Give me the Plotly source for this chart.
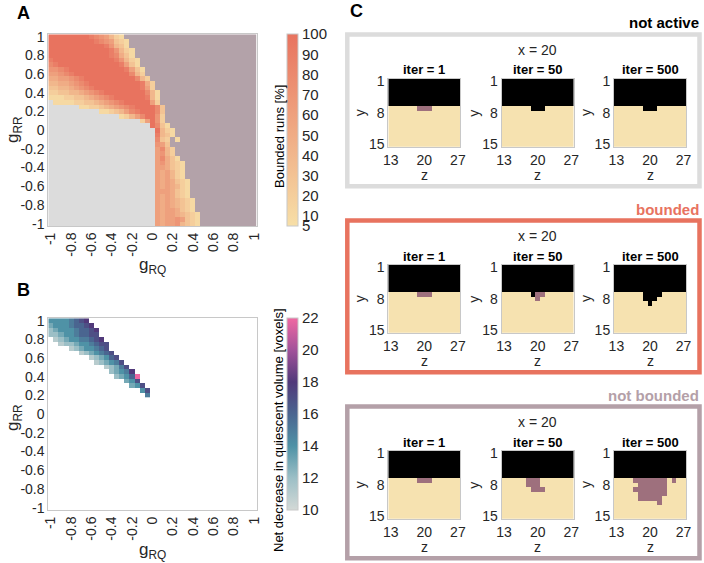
import plotly.graph_objects as go

W, H = 704, 563
FONT = "Liberation Sans, Arial, Helvetica, sans-serif"
TXT = "#262626"

# ---------------- data: parameter grid (panels A and B) ----------------
g_RQ = [-1.00, -0.95, -0.90, -0.85, -0.80, -0.75, -0.70, -0.65, -0.60, -0.55,
        -0.50, -0.45, -0.40, -0.35, -0.30, -0.25, -0.20, -0.15, -0.10, -0.05,
        0.00, 0.05, 0.10, 0.15, 0.20, 0.25, 0.30, 0.35, 0.40, 0.45,
        0.50, 0.55, 0.60, 0.65, 0.70, 0.75, 0.80, 0.85, 0.90, 0.95, 1.00]
g_RR = [1.00, 0.95, 0.90, 0.85, 0.80, 0.75, 0.70, 0.65, 0.60, 0.55,
        0.50, 0.45, 0.40, 0.35, 0.30, 0.25, 0.20, 0.15, 0.10, 0.05,
        0.00, -0.05, -0.10, -0.15, -0.20, -0.25, -0.30, -0.35, -0.40, -0.45,
        -0.50, -0.55, -0.60, -0.65, -0.70, -0.75, -0.80, -0.85, -0.90, -0.95, -1.00]
tick_vals = [-1, -0.8, -0.6, -0.4, -0.2, 0, 0.2, 0.4, 0.6, 0.8, 1]
tick_text = ["-1", "-0.8", "-0.6", "-0.4", "-0.2", "0", "0.2", "0.4", "0.6", "0.8", "1"]

# ---------------- panel A: bounded runs [%] ----------------
# g = not active, p = not bounded, digits/X = bounded-run percentage
A_LEVELS = {'0': 5, '1': 10, '2': 20, '3': 30, '4': 40, '5': 50, '6': 60,
            '7': 70, '8': 80, '9': 90, 'X': 100}
A_ROWS = [
    "XXXXXXXX9876421",
    "XXXXXXXXX9876321",
    "XXXXXXXXXXX97431",
    "XXXXXXXXXXXX97421",
    "XXXXXXXXXXXX98531",
    "9XXXXXXXXXXXX97421",
    "89XXXXXXXXXXXX9631",
    "7789XXXXXXXXXXX9631",
    "66789XXXXXXXXXXX842",
    "5566789XXXXXXXXXX842",
    "44556789XXXXXXXXXX952",
    "334456789XXXXXXXXX962",
    "22334456789XXXXXXXX841",
    "1112233456789XXXXXX941",
    "g" + "11112233456789XXXXX62",
    "g" * 6 + "11223456789XXXX83",
    "g" * 10 + "11234689XXX83",
    "g" * 14 + "12468XX72",
    "g" * 18 + "26X72",
    "g" * 20 + "X831",
    "g" * 21 + "X421",
    "g" * 21 + "9431",
    "g" * 21 + "832p1",
    "g" * 21 + "763",
    "g" * 21 + "6842",
    "g" * 21 + "6742",
    "g" * 21 + "68531",
    "g" * 21 + "675321",
    "g" * 21 + "665321",
    "g" * 21 + "656421",
    "g" * 21 + "656421",
    "g" * 21 + "6565321",
    "g" * 21 + "6565421",
    "g" * 21 + "6665321",
    "g" * 21 + "6565321",
    "g" * 21 + "65654321",
    "g" * 21 + "65654321",
    "g" * 21 + "65665321",
    "g" * 21 + "656654321",
    "g" * 21 + "656676321",
    "g" * 21 + "656674321",
]
A_CBAR_TICKS = [5, 10, 20, 30, 40, 50, 60, 70, 80, 90, 100]

# ---------------- panel B: net decrease in quiescent volume ----------------
B_LEVELS = {'a': 10, 'b': 11, 'c': 12, 'd': 13, 'e': 14, 'f': 15, 'g': 16,
            'h': 17, 'i': 18, 'j': 19, 'k': 20, 'l': 21, 'm': 22}
B_ROWS = [
    "eeeefghi",
    "deeefgghi",
    "cdeeefgghi",
    "ccdeefgghh",
    ".bcdeeffghi",
    "..bccdeefghh",
    "....bcdeefgh",
    "......bcdefgh",
    "........bcdegh",
    ".........bcdefh",
    "...........bcdfh",
    "............cdefi",
    ".............cdegm",
    "...............deh",
    "................deh",
    "..................eh",
    "...................f",
]
B_CBAR_TICKS = [10, 12, 14, 16, 18, 20, 22]

# ---------------- panel C: slices at x = 20 ----------------
C_z = [13, 14, 15, 16, 17, 18, 19, 20, 21, 22, 23, 24, 25, 26, 27]
C_y = [1, 2, 3, 4, 5, 6, 7, 8, 9, 10, 11, 12, 13, 14, 15]
C_ITERS = ["iter = 1", "iter = 50", "iter = 500"]
TOP = "KKKKKKKKKKKKKKK"   # K = black, . = yellow, m = mauve
# rows 7.. of each slice (rows 1-6 are black)
C_NOT_ACTIVE = [["......mmm......"], ["......KKK......"], ["......KKK......"]]
C_BOUNDED = [["......mmm......"],
             ["......Kmm......", ".......m......."],
             ["......KKKK.....", "......KKK......", ".......K......."]]
C_NOT_BOUNDED = [["......mmm......"],
                 [".....mmm.......", ".....mmm.......", "......mmm......"],
                 ["....mmmmmmm.m..", ".....mmmmmm....", "....mmmmmmm....",
                  ".....mmmmmm....", ".....mmmmm.....", ".........m....."]]
C_TITLES = ["not active", "bounded", "not bounded"]

# ---------------- colours ----------------
GRAY = "#dcdcdc"
PURP = "#b3a2a9"
CORAL = "#e8735f"
A_SCALE = [[0, "#f7dfa7"], [1, "#e8735f"]]
B_SCALE = [[0, "#d3d9d6"], [1 / 6, "#9cbfc6"], [2 / 6, "#4f92a6"], [3 / 6, "#4a6590"],
           [4 / 6, "#51397a"], [5 / 6, "#a2529a"], [1, "#f068a2"]]
C_SCALE = [[0, "#000000"], [1 / 3, "#000000"], [1 / 3, "#f6e2b0"], [2 / 3, "#f6e2b0"],
           [2 / 3, "#9e707d"], [1, "#9e707d"]]
BOX_COLORS = [GRAY, CORAL, "#b4a0a8"]
TITLE_COLORS = ["#000000", CORAL, "#b4a0a8"]


def xp(px):
    return px / W


def yp(py):
    return 1 - py / H


# ---- parse panel A ----
A_val, A_cat = [], []
for r in A_ROWS:
    r = r.ljust(41, 'p')
    vrow, crow = [], []
    for ch in r:
        if ch == 'g':
            vrow.append(None); crow.append(0)
        elif ch == 'p':
            vrow.append(None); crow.append(1)
        else:
            vrow.append(A_LEVELS[ch]); crow.append(None)
    A_val.append(vrow); A_cat.append(crow)

# ---- parse panel B ----
B_val = []
for r in B_ROWS:
    r = r.ljust(41, '.')
    B_val.append([B_LEVELS.get(ch) for ch in r])

fig = go.Figure()

fig.add_trace(go.Heatmap(x=g_RQ, y=g_RR, z=A_cat, zmin=0, zmax=1,
                         colorscale=[[0, GRAY], [0.5, GRAY], [0.5, PURP], [1, PURP]],
                         showscale=False, xaxis="x", yaxis="y", hoverinfo="skip"))
fig.add_trace(go.Heatmap(
    x=g_RQ, y=g_RR, z=A_val, zmin=5, zmax=100, colorscale=A_SCALE,
    xaxis="x", yaxis="y",
    colorbar=dict(x=xp(287), xanchor="left", xpad=0, xref="paper",
                  y=yp(130.2), yanchor="middle", yref="paper", ypad=0,
                  len=191.7 / H, lenmode="fraction", thickness=11,
                  outlinewidth=1, outlinecolor="#c8c8c8",
                  tickvals=A_CBAR_TICKS, ticks="",
                  tickfont=dict(size=15, color=TXT, family=FONT))))

fig.add_trace(go.Heatmap(
    x=g_RQ, y=g_RR[:len(B_val)], z=B_val, zmin=10, zmax=22, colorscale=B_SCALE,
    xaxis="x2", yaxis="y2",
    colorbar=dict(x=xp(287), xanchor="left", xpad=0, xref="paper",
                  y=yp(414.2), yanchor="middle", yref="paper", ypad=0,
                  len=191.7 / H, lenmode="fraction", thickness=11,
                  outlinewidth=1, outlinecolor="#c8c8c8",
                  tickvals=B_CBAR_TICKS, ticks="",
                  tickfont=dict(size=15, color=TXT, family=FONT))))


def ax_common(domain, rng, tv, tt, angle=0, size=14):
    return dict(domain=domain, range=rng, showgrid=False, zeroline=False,
                showline=True, mirror=True, linecolor="#c8c8c8", linewidth=1,
                ticks="", tickvals=tv, ticktext=tt, tickangle=angle,
                tickfont=dict(size=size, color=TXT, family=FONT),
                automargin=False, fixedrange=True)


layout = dict(
    width=W, height=H, margin=dict(l=0, r=0, t=0, b=0),
    paper_bgcolor="white", plot_bgcolor="white", showlegend=False,
    font=dict(family=FONT, color=TXT),
)
layout["xaxis"] = ax_common([xp(48.3), xp(256.7)], [-1.025, 1.025], tick_vals, tick_text, -90)
layout["yaxis"] = ax_common([yp(226), yp(34.3)], [-1.025, 1.025], tick_vals, tick_text)
layout["xaxis"]["anchor"] = "y"
layout["yaxis"]["anchor"] = "x"
layout["xaxis2"] = ax_common([xp(48.3), xp(256.7)], [-1.025, 1.025], tick_vals, tick_text, -90)
layout["yaxis2"] = ax_common([yp(510), yp(318.3)], [-1.025, 1.025], tick_vals, tick_text)
layout["xaxis2"]["anchor"] = "y2"
layout["yaxis2"]["anchor"] = "x2"

annotations = []
shapes = []


def ann(text, x, y, size=14, bold=False, color="#000000", angle=0, xanchor="center"):
    if bold:
        text = "<b>" + text + "</b>"
    annotations.append(dict(text=text, x=xp(x), y=yp(y), xref="paper", yref="paper",
                            showarrow=False, textangle=angle, xanchor=xanchor,
                            yanchor="middle", font=dict(size=size, color=color, family=FONT)))


ann("A", 23, 12.5, 18, True)
ann("B", 23, 290, 18, True)
ann("C", 356, 11, 18, True)
ann("g<sub>RR</sub>", 14, 130, 17, color=TXT, angle=-90)
ann("g<sub>RQ</sub>", 152, 266, 17, color=TXT)
ann("g<sub>RR</sub>", 14, 418, 17, color=TXT, angle=-90)
ann("g<sub>RQ</sub>", 152, 551, 17, color=TXT)
ann("Bounded runs [%]", 279, 137, 13, color="#000000", angle=-90)
ann("Net decrease in quiescent volume [voxels]", 279, 430, 13, color="#000000", angle=-90)

# panel C
box_tops = [79, 265, 451]
grid_lefts = [388.3, 501.7, 614.0]
grid_w, grid_h = 72.0, 67.7
boxes = [C_NOT_ACTIVE, C_BOUNDED, C_NOT_BOUNDED]
k = 3
for b, (slices, T) in enumerate(zip(boxes, box_tops)):
    shapes.append(dict(type="rect", xref="paper", yref="paper",
                       x0=xp(347.3), x1=xp(699.5), y0=yp(T - 44.5), y1=yp(T + 107.3),
                       line=dict(color=BOX_COLORS[b], width=4.5), fillcolor="rgba(0,0,0,0)"))
    ann(C_TITLES[b], 701, T - 56, 15, True, TITLE_COLORS[b], xanchor="right")
    ann("x = 20", 537.5, T - 29, 14, color=TXT)
    for s, rows7 in enumerate(slices):
        rows = [TOP] * 6 + list(rows7)
        rows += ["..............."] * (15 - len(rows))
        zz = [[{'K': 0, '.': 1, 'm': 2}[ch] for ch in r] for r in rows]
        xa, ya = "x%d" % k, "y%d" % k
        fig.add_trace(go.Heatmap(x=C_z, y=C_y, z=zz, zmin=0, zmax=2, colorscale=C_SCALE,
                                 showscale=False, xaxis=xa, yaxis=ya, hoverinfo="skip"))
        L = grid_lefts[s]
        xa_d = ax_common([xp(L), xp(L + grid_w)], [12.5, 27.5], [13, 20, 27],
                         ["13", "20", "27"], 0, 14)
        ya_d = ax_common([yp(T + grid_h), yp(T)], [15.5, 0.5], [1, 8, 15],
                         ["1", "8", "15"], 0, 14)
        xa_d["anchor"] = ya
        ya_d["anchor"] = xa
        layout["xaxis%d" % k] = xa_d
        layout["yaxis%d" % k] = ya_d
        ann(C_ITERS[s], L + grid_w / 2, T - 9, 13, True, "#000000")
        ann("z", L + grid_w / 2, T + 96, 14, color=TXT)
        ann("y", L - 28, T + 34, 14, color=TXT, angle=-90)
        k += 1

layout["annotations"] = annotations
layout["shapes"] = shapes
fig.update_layout(**layout)
fig.write_html(
    "out.html",
    config={"displayModeBar": False},
    post_script="document.body.style.margin='0';document.body.style.padding='0';"
                "document.documentElement.style.margin='0';",
)
